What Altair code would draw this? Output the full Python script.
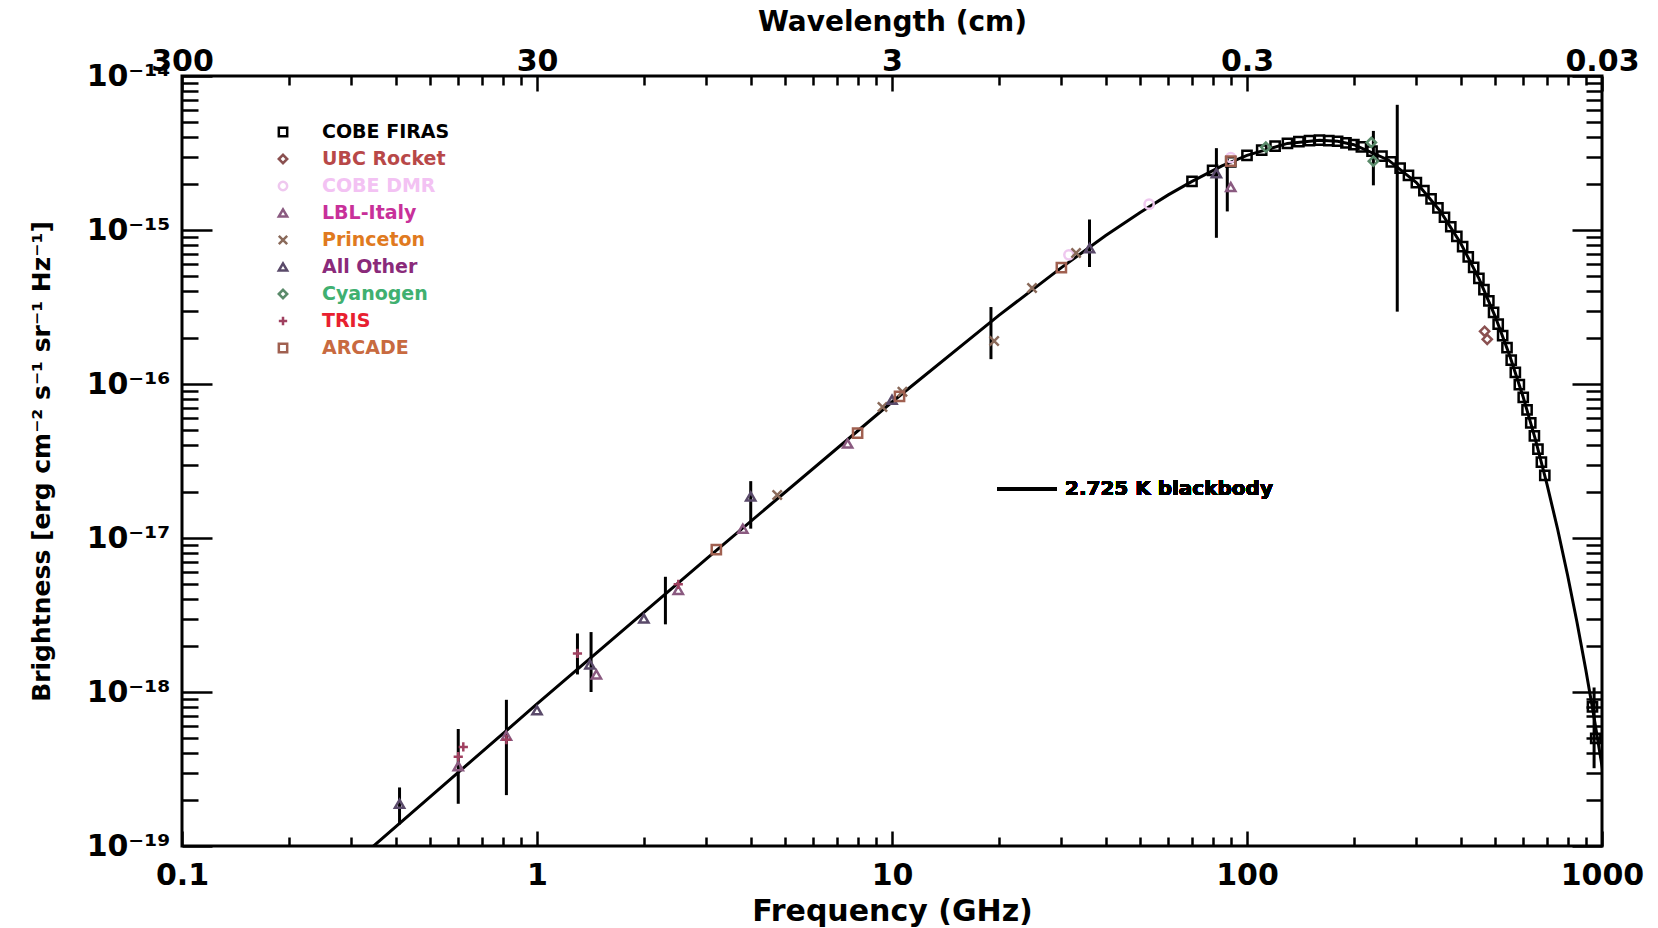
import altair as alt
import pandas as pd

# ---------------- data ----------------
# 2.725 K blackbody curve (frequency GHz, brightness erg cm^-2 s^-1 sr^-1 Hz^-1)
LINE_F = [0.3, 1, 3, 10, 20, 30, 40, 50, 60, 70, 85, 100, 130, 160, 180, 200, 250, 300,
          350, 400, 450, 500, 550, 600, 650, 700, 750, 800, 850, 900, 950, 1000, 1100]
LINE_B = [7.5e-20, 8.36e-19, 7.33e-18, 7.64e-17, 2.79e-16, 5.7e-16, 9.2e-16, 1.30e-15, 1.69e-15,
          2.07e-15, 2.61e-15, 3.05e-15, 3.65e-15, 3.83e-15, 3.77e-15, 3.58e-15, 2.85e-15, 2.03e-15,
          1.33e-15, 8.2e-16, 4.85e-16, 2.75e-16, 1.52e-16, 8.2e-17, 4.32e-17, 2.23e-17, 1.14e-17,
          5.73e-18, 2.85e-18, 1.40e-18, 6.84e-19, 3.3e-19, 7.55e-20]

SERIES = ["COBE FIRAS", "UBC Rocket", "COBE DMR", "LBL-Italy", "Princeton",
          "All Other", "Cyanogen", "TRIS", "ARCADE"]
TEXT_COLORS = ["#000000", "#b84848", "#f3c2f3", "#c8309a", "#e07a20",
               "#8a2a7a", "#40b070", "#e82030", "#c86a40"]
MARK_COLORS = ["#000000", "#8a5050", "#efc8ef", "#8a5a80", "#8a6a5a",
               "#5a4a6a", "#5a8a6a", "#a04060", "#a06050"]
SHAPES = ["square", "diamond", "circle", "triangle-up", "M-1,-1L1,1M-1,1L1,-1",
          "triangle-up", "diamond", "M-1,0L1,0M0,-1L0,1", "square"]

FIRAS_F = [70, 80, 90, 100, 110, 120, 130, 140, 150, 160, 170, 180, 190, 200, 210, 225, 240,
           255, 270, 285, 300, 315, 330, 345, 360, 375, 390, 405, 420, 435, 450, 465, 480,
           495, 510, 525, 540, 555, 570, 585, 600, 615, 630, 645, 660, 675, 690, 940, 960]
FIRAS_B = [2.07e-15, 2.44e-15, 2.77e-15, 3.05e-15, 3.30e-15, 3.50e-15, 3.65e-15, 3.75e-15,
           3.81e-15, 3.83e-15, 3.81e-15, 3.77e-15, 3.68e-15, 3.58e-15, 3.47e-15, 3.25e-15,
           3.02e-15, 2.77e-15, 2.52e-15, 2.26e-15, 2.03e-15, 1.80e-15, 1.59e-15, 1.39e-15,
           1.21e-15, 1.05e-15, 9.1e-16, 7.8e-16, 6.7e-16, 5.71e-16, 4.85e-16, 4.1e-16,
           3.47e-16, 2.92e-16, 2.45e-16, 2.06e-16, 1.72e-16, 1.43e-16, 1.19e-16, 9.9e-17,
           8.2e-17, 6.8e-17, 5.6e-17, 4.6e-17, 3.78e-17, 3.11e-17, 2.55e-17, 8.0e-19, 5.0e-19]
UBC_F = [467, 475]
UBC_B = [2.2e-16, 1.95e-16]
DMR_F = [31.5, 53, 90]
DMR_B = [6.9e-16, 1.47e-15, 2.95e-15]
LBL_F = [0.6, 0.82, 1.47, 2.5, 3.8, 7.5, 90]
LBL_B = [3.3e-19, 5.2e-19, 1.3e-18, 4.6e-18, 1.15e-17, 4.1e-17, 1.9e-15]
PRINCETON_F = [4.75, 9.4, 10.7, 19.4, 24.8, 33]
PRINCETON_B = [1.9e-17, 7.1e-17, 8.9e-17, 1.9e-16, 4.2e-16, 7.1e-16]
OTHER_F = [0.41, 1.0, 1.41, 2.0, 4.0, 10, 36, 82]
OTHER_B = [1.88e-19, 7.6e-19, 1.51e-18, 3.0e-18, 1.86e-17, 7.9e-17, 7.6e-16, 2.34e-15]
CYANOGEN_F = [113, 224, 227]
CYANOGEN_B = [3.45e-15, 3.7e-15, 2.8e-15]
TRIS_F = [0.6, 0.62, 0.82, 1.3, 2.5]
TRIS_B = [3.8e-19, 4.4e-19, 4.9e-19, 1.78e-18, 5.0e-18]
ARCADE_F = [3.2, 8.0, 10.5, 30, 90]
ARCADE_B = [8.4e-18, 4.8e-17, 8.3e-17, 5.7e-16, 2.8e-15]

ERR_F = [0.41, 0.6, 0.82, 1.3, 1.42, 2.3, 4.0, 19.0, 36.0, 82, 88, 227, 265, 950]
ERR_LO = [1.38e-19, 1.88e-19, 2.14e-19, 1.3e-18, 1.0e-18, 2.75e-18, 1.15e-17, 1.45e-16,
          5.75e-16, 8.9e-16, 1.32e-15, 1.95e-15, 2.95e-16, 3.2e-19]
ERR_HI = [2.4e-19, 5.75e-19, 8.9e-19, 2.4e-18, 2.45e-18, 5.6e-18, 2.34e-17, 3.16e-16,
          1.17e-15, 3.4e-15, 2.9e-15, 4.4e-15, 6.5e-15, 1.07e-18]

X_MAJOR = [0.1, 1, 10, 100, 1000]
X_MINOR = [k * m for m in [0.1, 1, 10, 100] for k in range(2, 10)]
Y_MAJOR = [1e-19, 1e-18, 1e-17, 1e-16, 1e-15, 1e-14]
Y_MINOR = [k * m for m in [1e-19, 1e-18, 1e-17, 1e-16, 1e-15] for k in range(2, 10)]

# ---------------- tables ----------------
line_df = pd.DataFrame({"f": LINE_F, "b": LINE_B})
series_data = [FIRAS_F, UBC_F, DMR_F, LBL_F, PRINCETON_F, OTHER_F, CYANOGEN_F, TRIS_F, ARCADE_F]
series_vals = [FIRAS_B, UBC_B, DMR_B, LBL_B, PRINCETON_B, OTHER_B, CYANOGEN_B, TRIS_B, ARCADE_B]
rows = []
for name, fs, bs in zip(SERIES, series_data, series_vals):
    for f, b in zip(fs, bs):
        rows.append({"series": name, "f": f, "b": b})
pts_df = pd.DataFrame(rows)
err_df = pd.DataFrame({"f": ERR_F, "lo": ERR_LO, "hi": ERR_HI})
leg_df = pd.DataFrame({"series": SERIES, "idx": list(range(len(SERIES))), "tcolor": TEXT_COLORS})

W, H = 1420, 770
FONT = "DejaVu Sans"
XS = alt.Scale(type="log", domain=[0.1, 1000], nice=False)
YS = alt.Scale(type="log", domain=[1e-19, 1e-14], nice=False)
SHAPE_SCALE = alt.Scale(domain=SERIES, range=SHAPES)
COLOR_SCALE = alt.Scale(domain=SERIES, range=MARK_COLORS)

XMAJ, XMIN = 15, 9
YMAJ, YMIN = 30, 16

common_axis = dict(grid=False, domain=False, tickColor="black", tickWidth=2.5,
                   labelFont=FONT, labelFontSize=30, labelFontWeight="bold",
                   labelColor="black", labelFlush=False, labelOverlap=False)

ax_bottom_major = alt.Axis(orient="bottom", values=X_MAJOR, tickSize=XMAJ, offset=-XMAJ,
                           format="~g", labelPadding=14, title="Frequency (GHz)",
                           titleFont=FONT, titleFontSize=30, titleFontWeight="bold",
                           titleColor="black", titleY=80, titleBaseline="middle", **common_axis)
ax_bottom_minor = alt.Axis(orient="bottom", values=X_MINOR, tickSize=XMIN, offset=-XMIN,
                           labels=False, title=None, **common_axis)
ax_top_major = alt.Axis(orient="top", values=X_MAJOR, tickSize=XMAJ, offset=-XMAJ,
                        labelExpr="format(30 / datum.value, '~g')", labelPadding=0,
                        title="Wavelength (cm)", titleFont=FONT, titleFontSize=28,
                        titleFontWeight="bold", titleColor="black", titleY=-69,
                        titleBaseline="middle", **common_axis)
ax_top_minor = alt.Axis(orient="top", values=X_MINOR, tickSize=XMIN, offset=-XMIN,
                        labels=False, title=None, **common_axis)

ylab = ("'10' + (datum.value < 5e-19 ? '⁻¹⁹' : datum.value < 5e-18 ? '⁻¹⁸' : "
        "datum.value < 5e-17 ? '⁻¹⁷' : datum.value < 5e-16 ? '⁻¹⁶' : "
        "datum.value < 5e-15 ? '⁻¹⁵' : '⁻¹⁴')")
ax_left_major = alt.Axis(orient="left", values=Y_MAJOR, tickSize=YMAJ, offset=-YMAJ,
                         labelExpr=ylab, labelPadding=12,
                         title="Brightness [erg cm⁻² s⁻¹ sr⁻¹ Hz⁻¹]", titleFont=FONT,
                         titleFontSize=25, titleFontWeight="bold", titleColor="black",
                         titleX=-171, titleBaseline="middle", **common_axis)
ax_left_minor = alt.Axis(orient="left", values=Y_MINOR, tickSize=YMIN, offset=-YMIN,
                         labels=False, title=None, **common_axis)
ax_right_major = alt.Axis(orient="right", values=Y_MAJOR, tickSize=YMAJ, offset=-YMAJ,
                          labels=False, title=None, **common_axis)
ax_right_minor = alt.Axis(orient="right", values=Y_MINOR, tickSize=YMIN, offset=-YMIN,
                          labels=False, title=None, **common_axis)

# ---------------- layers ----------------
line = alt.Chart(line_df).mark_line(color="black", strokeWidth=3, clip=True).encode(
    x=alt.X("f:Q", scale=XS, axis=ax_bottom_major),
    y=alt.Y("b:Q", scale=YS, axis=ax_left_major),
)

errbars = alt.Chart(err_df).mark_rule(color="black", strokeWidth=3, clip=True).encode(
    x=alt.X("f:Q", scale=XS, axis=ax_bottom_minor),
    y=alt.Y("lo:Q", scale=YS, axis=ax_left_minor),
    y2="hi:Q",
)

points = alt.Chart(pts_df).mark_point(filled=False, strokeWidth=2.5, size=85, opacity=1, clip=True).encode(
    x=alt.X("f:Q", scale=XS, axis=ax_top_major),
    y=alt.Y("b:Q", scale=YS, axis=ax_right_major),
    shape=alt.Shape("series:N", scale=SHAPE_SCALE, legend=None),
    color=alt.Color("series:N", scale=COLOR_SCALE, legend=None),
)

dummy = alt.Chart(line_df).mark_point(opacity=0).encode(
    x=alt.X("f:Q", scale=XS, axis=ax_top_minor),
    y=alt.Y("b:Q", scale=YS, axis=ax_right_minor),
)

leg_marks = alt.Chart(leg_df).transform_calculate(ly="56 + 27 * datum.idx").mark_point(
    filled=False, strokeWidth=2.5, size=70, opacity=1).encode(
    x=alt.value(101),
    y=alt.Y("ly:Q", scale=None, axis=None),
    shape=alt.Shape("series:N", scale=SHAPE_SCALE, legend=None),
    color=alt.Color("series:N", scale=COLOR_SCALE, legend=None),
)

leg_text = alt.Chart(leg_df).transform_calculate(ly="56 + 27 * datum.idx").mark_text(
    align="left", baseline="middle", font=FONT, fontSize=19, fontWeight="bold").encode(
    x=alt.value(140),
    y=alt.Y("ly:Q", scale=None, axis=None),
    text="series:N",
    color=alt.Color("tcolor:N", scale=None, legend=None),
)

bb_rule = alt.Chart(line_df).mark_rule(color="black", strokeWidth=3).encode(
    x=alt.value(815), x2=alt.value(875), y=alt.value(413))
bb_text = alt.Chart(line_df).mark_text(
    align="left", baseline="middle", font=FONT, fontSize=20, fontWeight="bold",
    color="black").encode(
    x=alt.value(883), y=alt.value(413), text=alt.value("2.725 K blackbody"))

chart = alt.layer(line, errbars, points, dummy, leg_marks, leg_text, bb_rule, bb_text).resolve_axis(
    x="independent", y="independent"
).properties(
    width=W, height=H,
    autosize=alt.AutoSizeParams(type="none"),
    padding={"left": 182, "top": 76, "right": 56, "bottom": 82},
    background="white",
).configure_view(stroke="black", strokeWidth=3)

chart.save("out.html", embed_options={"renderer": "svg", "actions": False})
